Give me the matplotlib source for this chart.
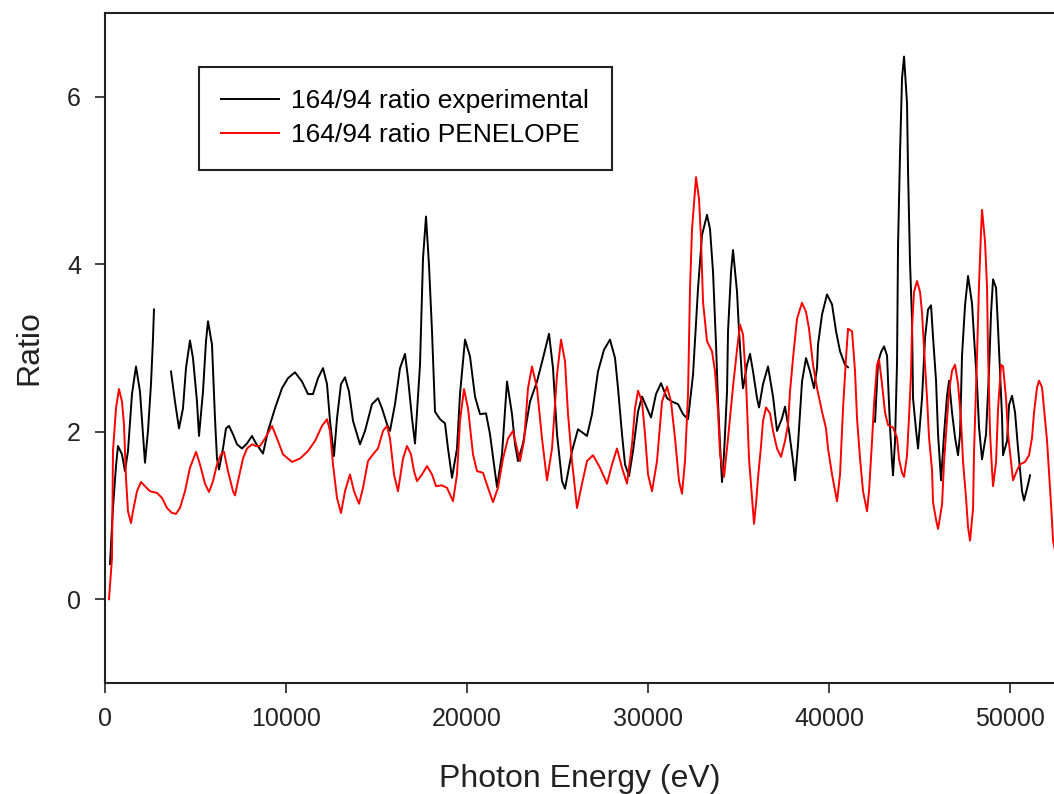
import numpy as np
import matplotlib.pyplot as plt

plt.rcParams['font.family'] = ['Liberation Sans', 'DejaVu Sans']

# 164/94 ratio, experimental (gaps where no data)
exp_energy = [
    276, 442, 608, 718, 939, 1105, 1271, 1492, 1713, 1934, 2210, 2376, 2542, 2652, 2707,
    np.nan,
    3647, 3868, 4089, 4310, 4475, 4696, 4862, 5083, 5194, 5415, 5580, 5691, 5912, 6078,
    6188, 6299, 6520, 6685, 6851, 7072, 7293, 7569, 7846, 8122, 8343, 8730, 9006, 9393,
    9779, 10111, 10498, 10884, 11216, 11492, 11768, 12045, 12266, 12431, 12650, 12818,
    13039, 13260, 13481, 13702, 14089, 14365, 14752, 15083, 15304, 15581, 15746, 16023,
    16299, 16575, 16741, 16962, 17128, 17404, 17570, 17735, 17901, 18067, 18233, 18509,
    18785, 18951, 19172, 19448, 19614, 19890, 20166, 20443, 20719, 21050, 21271, 21658,
    21934, 22211, 22487, 22653, 22818, 23095, 23481, 23868, 24200, 24531, 24752, 24973,
    25250, 25415, 25802, 26133, 26630, 26907, 27238, 27570, 27901, 28178, 28343, 28564,
    28730, 28951, 29172, 29448, 29669, 29946, 30167, 30443, 30719, 31051, 31327, 31659,
    31935, 32211, 32487, 32763, 32984, 33261, 33426, 33592, 33758, 33868, 33979, 34089,
    34200, 34366, 34421, 34587, 34697, 34918, 35029, 35194, 35250, 35471, 35636, 35802,
    36023, 36134, 36355, 36631, 36907, 37128, 37404, 37570, 37791, 38012, 38123, 38288,
    38509, 38730, 38951, 39172, 39338, 39393, 39614, 39891, 40167, 40388, 40609, 40885,
    41051,
    np.nan,
    42543, 42708, 42874, 43040, 43206, 43261, 43371, 43482, 43537, 43648, 43758, 43813,
    43924, 44034, 44145, 44311, 44366, 44476, 44587, 44642, 44808, 44918, 45139, 45305,
    45471, 45637, 45747, 45913, 46024, 46190, 46355, 46521, 46631, 46797, 46963, 47128,
    47239, 47349, 47515, 47681, 47902, 48012, 48178, 48289, 48454, 48675, 48841, 48952,
    49062, 49228, 49338, 49449, 49559, 49615, 49836, 49946, 50112, 50278, 50443, 50664,
    50775, 50996, 51106,
]
exp_ratio = [
    0.42, 1.09, 1.59, 1.83, 1.73, 1.53, 1.77, 2.45, 2.78, 2.48, 1.63, 2.01, 2.57, 3.11, 3.46,
    np.nan,
    2.72, 2.36, 2.04, 2.28, 2.76, 3.09, 2.88, 2.36, 1.95, 2.48, 3.08, 3.32, 3.04, 2.16,
    1.68, 1.55, 1.80, 2.04, 2.07, 1.97, 1.85, 1.80, 1.86, 1.95, 1.86, 1.74, 2.01, 2.28,
    2.52, 2.64, 2.71, 2.60, 2.45, 2.45, 2.64, 2.76, 2.57, 2.13, 1.71, 2.16,
    2.57, 2.65, 2.48, 2.13, 1.85, 2.01, 2.33, 2.40, 2.28, 2.09, 2.01, 2.33,
    2.76, 2.93, 2.64, 2.16, 1.86, 2.80, 4.07, 4.57, 3.99, 3.20, 2.24, 2.15,
    2.10, 1.80, 1.45, 1.80, 2.45, 3.10, 2.90, 2.42, 2.21, 2.22, 1.97, 1.34,
    1.73, 2.60, 2.21, 1.85, 1.65, 1.86, 2.36, 2.60, 2.88, 3.17, 2.76, 1.97,
    1.41, 1.32, 1.77, 2.03, 1.95, 2.21, 2.72, 2.98, 3.10, 2.88, 2.52, 1.97,
    1.61, 1.47, 1.77, 2.24, 2.42, 2.28, 2.17, 2.45, 2.58, 2.40, 2.36, 2.33,
    2.21, 2.15, 2.68, 3.71, 4.35, 4.59, 4.42, 3.91, 3.04, 2.36, 1.85, 1.40,
    1.73, 2.48, 3.20, 3.91, 4.17, 3.67, 3.20, 2.64, 2.52, 2.80, 2.93, 2.72,
    2.40, 2.29, 2.57, 2.78, 2.42, 2.01, 2.16, 2.30, 2.01, 1.65, 1.42, 1.85,
    2.60, 2.88, 2.72, 2.52, 2.76, 3.04, 3.40, 3.64, 3.52, 3.20, 2.96, 2.80,
    2.77,
    np.nan,
    2.12, 2.83, 2.95, 3.02, 2.91, 2.61, 2.05, 1.64, 1.48, 1.89, 2.83, 4.22,
    5.33, 6.22, 6.48, 5.92, 5.11, 4.02, 3.33, 2.40, 2.02, 1.80, 2.40, 3.12,
    3.46, 3.51, 3.13, 2.61, 1.97, 1.42, 1.97, 2.43, 2.61, 2.23, 1.93, 1.72,
    1.97, 2.91, 3.51, 3.86, 3.53, 3.13, 2.57, 2.05, 1.67, 1.97, 2.73, 3.42,
    3.82, 3.72, 3.24, 2.70, 2.18, 1.72, 1.89, 2.32, 2.43, 2.23, 1.80, 1.29,
    1.18, 1.37, 1.48,
]

# 164/94 ratio, PENELOPE simulation
sim_energy = [
    221, 387, 442, 608, 774, 939, 1050, 1160, 1271, 1437, 1547, 1768, 1989, 2210, 2486,
    2873, 3149, 3426, 3702, 3923, 4144, 4420, 4696, 5028, 5249, 5525, 5746, 5967, 6188,
    6409, 6575, 6796, 7072, 7183, 7348, 7625, 7846, 8122, 8343, 8564, 8840, 9227, 9503,
    9835, 10332, 10774, 11216, 11603, 11989, 12266, 12431, 12597, 12818, 13039, 13260,
    13536, 13757, 14034, 14255, 14531, 14807, 15083, 15360, 15581, 15746, 15967, 16188,
    16465, 16686, 16907, 17072, 17238, 17514, 17791, 18067, 18288, 18619, 18896, 19227,
    19448, 19614, 19835, 20056, 20332, 20553, 20885, 21161, 21437, 21713, 21990, 22266,
    22542, 22763, 22929, 23150, 23371, 23592, 23868, 24144, 24421, 24697, 24973, 25194,
    25415, 25581, 25802, 26078, 26354, 26630, 26962, 27349, 27736, 28012, 28288, 28564,
    28841, 29117, 29283, 29448, 29669, 29835, 30001, 30222, 30498, 30774, 31051, 31272,
    31493, 31714, 31880, 32045, 32211, 32321, 32432, 32653, 32819, 32929, 33040, 33261,
    33537, 33703, 33868, 33979, 34200, 34421, 34697, 34918, 35084, 35250, 35416, 35581,
    35747, 35857, 35968, 36078, 36244, 36355, 36521, 36741, 36907, 37128, 37349, 37570,
    37736, 37846, 38012, 38233, 38509, 38730, 38896, 39117, 39338, 39614, 39835, 39946,
    40167, 40443, 40609, 40775, 40940, 41051, 41272, 41438, 41548, 41714, 41880, 42101,
    42211, 42377, 42487, 42653, 42764, 42929, 43095, 43261, 43537, 43758, 43869, 44034,
    44145, 44311, 44421, 44532, 44587, 44697, 44863, 45029, 45139, 45250, 45416, 45526,
    45692, 45747, 45913, 46024, 46245, 46355, 46521, 46631, 46797, 46963, 47128, 47294,
    47405, 47570, 47681, 47791, 47957, 48012, 48178, 48289, 48399, 48454, 48620, 48731,
    48786, 48896, 49007, 49062, 49228, 49338, 49504, 49615, 49780, 49891, 50057, 50167,
    50388, 50554, 50830, 51051, 51217, 51327, 51493, 51604, 51769, 51880, 52046, 52156,
    52267, 52378, 52600,
]
sim_ratio = [
    0.00, 0.49, 1.77, 2.28, 2.51, 2.36, 2.09, 1.45, 1.05, 0.91, 1.05, 1.29, 1.40, 1.35, 1.29,
    1.27, 1.21, 1.09, 1.03, 1.02, 1.09, 1.29, 1.57, 1.76, 1.61, 1.38, 1.28, 1.41, 1.61,
    1.73, 1.76, 1.53, 1.29, 1.24, 1.41, 1.68, 1.80, 1.85, 1.83, 1.83, 1.92, 2.07, 1.92,
    1.73, 1.64, 1.68, 1.77, 1.89, 2.07, 2.15, 2.01, 1.61, 1.21, 1.03, 1.29,
    1.49, 1.29, 1.14, 1.33, 1.65, 1.73, 1.80, 2.01, 2.07, 1.92, 1.49, 1.29,
    1.68, 1.83, 1.73, 1.53, 1.41, 1.49, 1.59, 1.49, 1.35, 1.36, 1.33, 1.17,
    1.49, 2.13, 2.51, 2.28, 1.73, 1.53, 1.51, 1.33, 1.16, 1.33, 1.68, 1.92,
    2.01, 1.80, 1.65, 1.89, 2.52, 2.78, 2.52, 1.92, 1.42, 1.80, 2.68, 3.10,
    2.84, 2.21, 1.65, 1.09, 1.38, 1.65, 1.72, 1.57, 1.38, 1.61, 1.80, 1.57,
    1.38, 1.85, 2.28, 2.49, 2.36, 1.97, 1.49, 1.29, 1.65, 2.36, 2.54, 2.36,
    1.92, 1.41, 1.26, 1.65, 2.45, 3.71, 4.42, 5.04, 4.78, 4.30, 3.55, 3.08,
    2.96, 2.72, 2.24, 1.73, 1.46, 1.92, 2.54, 2.98, 3.28, 3.16, 2.60, 1.68,
    1.21, 0.90, 1.14, 1.45, 1.83, 2.13, 2.29, 2.22, 2.01, 1.80, 1.70, 1.89,
    2.09, 2.48, 2.88, 3.35, 3.54, 3.43, 3.23, 2.80, 2.52, 2.24, 2.04, 1.80,
    1.49, 1.17, 1.49, 2.28, 2.88, 3.23, 3.20, 2.72, 2.16, 1.68, 1.29, 1.05,
    1.29, 1.89, 2.33, 2.80, 2.86, 2.57, 2.23, 2.08, 2.05, 1.93, 1.67, 1.51,
    1.46, 1.72, 2.18, 2.70, 3.24, 3.67, 3.80, 3.67, 3.42, 2.99, 2.40, 1.93,
    1.54, 1.16, 0.95, 0.84, 1.13, 1.64, 2.14, 2.48, 2.73, 2.80, 2.57, 2.14,
    1.64, 1.21, 0.86, 0.70, 1.08, 1.76, 2.91, 3.76, 4.40, 4.65, 4.27, 3.72,
    2.95, 1.99, 1.54, 1.35, 1.64, 2.27, 2.80, 2.78, 2.40, 1.97, 1.64, 1.42,
    1.54, 1.61, 1.64, 1.72, 1.93, 2.23, 2.53, 2.61, 2.53, 2.27, 1.89, 1.51,
    1.13, 0.70, 0.45,
]

y_ticks = [0, 2, 4, 6]
x_ticks = [0, 10000, 20000, 30000, 40000, 50000]

fig = plt.figure(figsize=(10.54, 7.94), dpi=100)
ax = fig.add_axes([0.0996, 0.1398, 0.9004, 0.8438])

ax.plot(exp_energy, exp_ratio, color='black', lw=1.4, label='164/94 ratio experimental')
ax.plot(sim_energy, sim_ratio, color='#ff0000', lw=1.4, label='164/94 ratio PENELOPE')

ax.set_xlim(0, 52430)
ax.set_ylim(-1, 7)
ax.set_xticks(x_ticks)
ax.set_yticks(y_ticks)

for side in ['left', 'bottom', 'top']:
    ax.spines[side].set_linewidth(1.5)
    ax.spines[side].set_color('#222222')
ax.spines['right'].set_visible(False)

ax.tick_params(direction='out', length=7.2, width=1.2, pad=10, labelsize=18,
               colors='#222222')
ax.tick_params(top=False, right=False)

ax.set_xlabel('Photon Energy (eV)', fontsize=23, color='#222222', labelpad=24)
ax.set_ylabel('Ratio', fontsize=23, color='#222222', labelpad=16)

leg = ax.legend(loc='upper left', bbox_to_anchor=(199 / 1054, 1 - 67 / 794),
                bbox_transform=fig.transFigure, fontsize=19, frameon=True,
                fancybox=False, handlelength=2.2, handletextpad=0.45,
                labelspacing=0.38, borderpad=0.85, borderaxespad=0)
leg.get_frame().set_edgecolor('#222222')
leg.get_frame().set_linewidth(1.5)
leg.get_frame().set_alpha(1)

fig.savefig('out.png', dpi=100)
